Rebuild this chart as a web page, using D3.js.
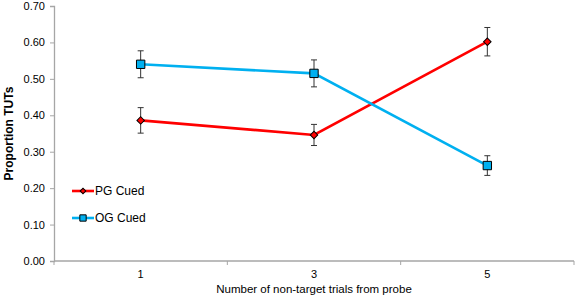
<!DOCTYPE html>
<html>
<head>
<meta charset="utf-8">
<script src="https://cdn.jsdelivr.net/npm/d3@7"></script>
<style>
  body { margin: 0; background: #fff; }
  svg text { font-family: "Liberation Sans", Arial, sans-serif; fill: #000; }
</style>
</head>
<body>
<div id="chart"></div>
<script>
// data
const categories = ['1', '3', '5']
const pgValues = [0.386, 0.346, 0.602]
const pgErrors = [0.035, 0.029, 0.039]
const ogValues = [0.540, 0.515, 0.262]
const ogErrors = [0.037, 0.037, 0.027]
const yTicks = [0, 0.1, 0.2, 0.3, 0.4, 0.5, 0.6, 0.7]

const width = 577, height = 298
const margin = {left: 54, right: 3, top: 6, bottom: 37}

const svg = d3.select('#chart').append('svg')
    .attr('width', width)
    .attr('height', height)

const x = d3.scaleBand()
    .domain(categories)
    .range([margin.left, width - margin.right])

const y = d3.scaleLinear()
    .domain([0, 0.7])
    .range([height - margin.bottom, margin.top])

const axisColor = '#a6a6a6'

// y axis
const yAxis = d3.axisLeft(y)
    .tickValues(yTicks)
    .tickFormat(d3.format('.2f'))
    .tickSize(4)
    .tickPadding(5)

const gy = svg.append('g')
    .attr('transform', `translate(${margin.left},0)`)
    .call(yAxis)
gy.select('.domain').attr('stroke', axisColor).attr('stroke-width', 1.3)
gy.selectAll('.tick line').attr('stroke', axisColor)
gy.selectAll('.tick text').style('font-size', '11px').attr('fill', '#000')

// x axis: labels at band centres, ticks at band edges
const gx = svg.append('g')
    .attr('transform', `translate(0,${y(0)})`)
gx.append('line')
    .attr('x1', margin.left).attr('x2', width - margin.right)
    .attr('stroke', axisColor).attr('stroke-width', 1.3)
const edges = categories.map(c => x(c)).concat([x(categories[categories.length - 1]) + x.bandwidth()])
gx.selectAll('.edge')
    .data(edges)
    .enter()
    .append('line')
    .attr('x1', d => d).attr('x2', d => d)
    .attr('y1', 0).attr('y2', 4)
    .attr('stroke', axisColor)
gx.selectAll('.lbl')
    .data(categories)
    .enter()
    .append('text')
    .attr('x', d => x(d) + x.bandwidth() / 2)
    .attr('y', 17)
    .attr('text-anchor', 'middle')
    .style('font-size', '11px')
    .text(d => d)

// axis titles
svg.append('text')
    .attr('x', x(categories[1]) + x.bandwidth() / 2)
    .attr('y', 293)
    .attr('text-anchor', 'middle')
    .style('font-size', '11.5px')
    .text('Number of non-target trials from probe')

svg.append('text')
    .attr('transform', `translate(13, ${(y(0) + y(0.7)) / 2}) rotate(-90)`)
    .attr('text-anchor', 'middle')
    .style('font-size', '12px')
    .style('font-weight', 'bold')
    .text('Proportion TUTs')

const cx = c => x(c) + x.bandwidth() / 2

// diamond = square turned 45 degrees
const series = [
    {name: 'PG Cued', values: pgValues, errors: pgErrors, color: '#ff0000', rot: 45, size: 28, legSize: 16},
    {name: 'OG Cued', values: ogValues, errors: ogErrors, color: '#00b0f0', rot: 0, size: 70, legSize: 40}
]

const line = d3.line()
    .x((d, i) => cx(categories[i]))
    .y(d => y(d))

series.forEach(s => {
    svg.append('path')
        .datum(s.values)
        .attr('d', line)
        .attr('fill', 'none')
        .attr('stroke', s.color)
        .attr('stroke-width', 2.6)
})

series.forEach(s => {
    const g = svg.append('g')
    const pts = s.values.map((v, i) => ({c: categories[i], v: v, e: s.errors[i]}))
    g.selectAll('.err')
        .data(pts)
        .enter()
        .append('line')
        .attr('x1', d => cx(d.c)).attr('x2', d => cx(d.c))
        .attr('y1', d => y(d.v + d.e)).attr('y2', d => y(d.v - d.e))
        .attr('stroke', '#333').attr('stroke-width', 1)
    ;['top', 'bot'].forEach(k => {
        g.selectAll('.cap' + k)
            .data(pts)
            .enter()
            .append('line')
            .attr('x1', d => cx(d.c) - 3).attr('x2', d => cx(d.c) + 3)
            .attr('y1', d => y(k === 'top' ? d.v + d.e : d.v - d.e))
            .attr('y2', d => y(k === 'top' ? d.v + d.e : d.v - d.e))
            .attr('stroke', '#333').attr('stroke-width', 1)
    })
    g.selectAll('.mk')
        .data(pts)
        .enter()
        .append('path')
        .attr('d', d3.symbol().type(d3.symbolSquare).size(s.size))
        .attr('transform', d => `translate(${cx(d.c)},${y(d.v)}) rotate(${s.rot})`)
        .attr('fill', s.color)
        .attr('stroke', '#000')
        .attr('stroke-width', 1)
})

// legend
const legend = svg.append('g')
series.forEach((s, i) => {
    const ly = 191 + i * 27
    legend.append('line')
        .attr('x1', 72).attr('x2', 94)
        .attr('y1', ly).attr('y2', ly)
        .attr('stroke', s.color).attr('stroke-width', 2.6)
    legend.append('path')
        .attr('d', d3.symbol().type(d3.symbolSquare).size(s.legSize))
        .attr('transform', `translate(83,${ly}) rotate(${s.rot})`)
        .attr('fill', s.color)
        .attr('stroke', '#000')
    legend.append('text')
        .attr('x', 95)
        .attr('y', ly + 4)
        .style('font-size', '12px')
        .text(s.name)
})
</script>
</body>
</html>
